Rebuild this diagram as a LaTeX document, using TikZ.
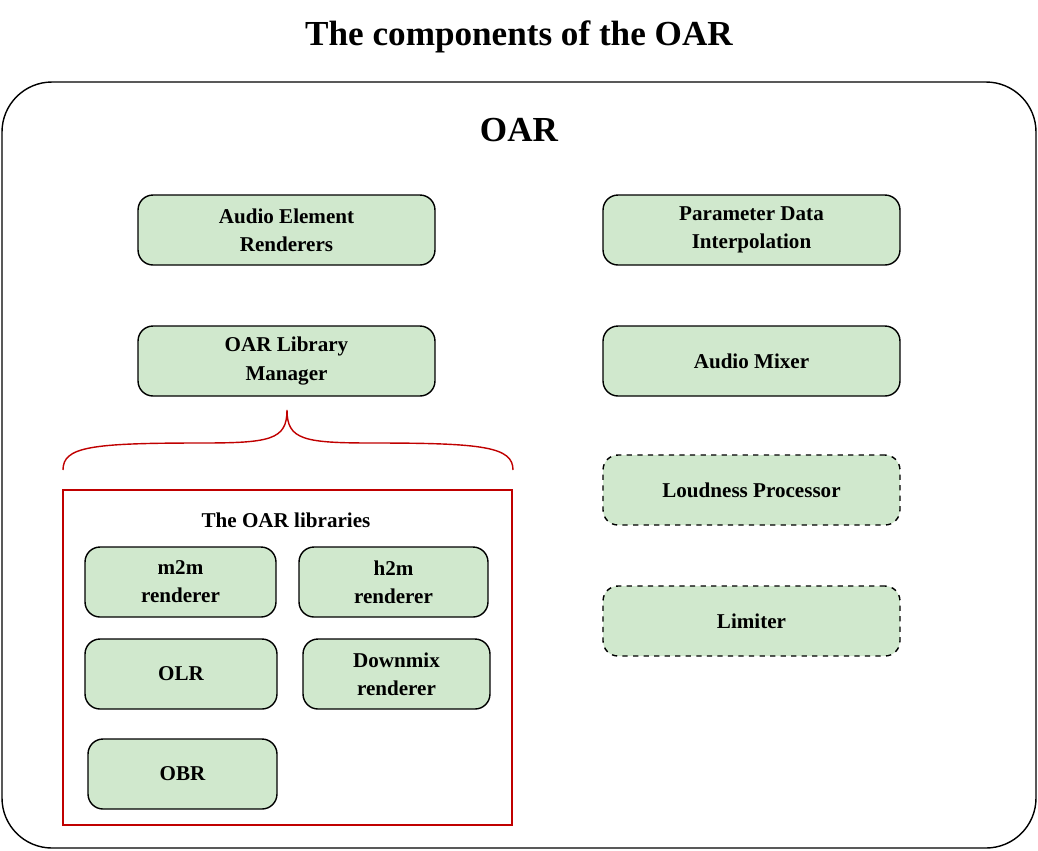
\documentclass[tikz,border=0pt]{standalone}
\usepackage{fontspec}
\setmainfont{Liberation Serif}
\definecolor{boxgreen}{HTML}{D0E8CD}
\definecolor{libred}{HTML}{C00000}
\tikzset{
  comp/.style={draw, thick, rounded corners=0.3cm, fill=boxgreen, align=center,
    font=\fontsize{12}{16}\selectfont\bfseries, minimum height=1.4cm},
  opt/.style={comp, dashed}
}
\begin{document}
\begin{tikzpicture}[x=0.02cm, y=-0.02cm]
\useasboundingbox (0,0) rectangle (1038,850);
%titre
\node[font=\fontsize{20}{24}\selectfont\bfseries] (title) at (519,37) {The components of the OAR};
%cadre OAR
\draw[thick, rounded corners=1cm] (2,82) rectangle (1036,848);
\node[font=\fontsize{20}{24}\selectfont\bfseries] (oar) at (519,130) {OAR};
%colonne gauche
\node[comp, minimum width=5.94cm] (aer) at (286.5,230) {Audio Element\\Renderers};
\node[comp, minimum width=5.94cm] (olm) at (286.5,361) {OAR Library\\Manager};
%colonne droite
\node[comp, minimum width=5.94cm] (pdi) at (751.5,230) {Parameter Data\\Interpolation};
\node[comp, minimum width=5.94cm] (mix) at (751.5,361) {Audio Mixer};
\node[opt, minimum width=5.94cm] (loud) at (751.5,490) {Loudness Processor};
\node[opt, minimum width=5.94cm] (lim) at (751.5,621) {Limiter};
%accolade
\draw[libred, thick] (63,470) .. controls (63,447) and (90,443) .. (200,443)
  .. controls (270,443) and (287,440) .. (287,410)
  .. controls (287,440) and (304,443) .. (374,443)
  .. controls (484,443) and (513,447) .. (513,470);
%librairies
\draw[libred, thick] (63,490) rectangle (512,825);
\node[font=\fontsize{12}{16}\selectfont\bfseries] (libs) at (286,520) {The OAR libraries};
\node[comp, minimum width=3.82cm] (m2m) at (180.5,582) {m2m\\renderer};
\node[comp, minimum width=3.78cm] (h2m) at (393.5,582) {h2m\\renderer};
\node[comp, minimum width=3.84cm] (olr) at (181,674) {OLR};
\node[comp, minimum width=3.74cm] (dmx) at (396.5,674) {Downmix\\renderer};
\node[comp, minimum width=3.78cm] (obr) at (182.5,774) {OBR};
\end{tikzpicture}
\end{document}
